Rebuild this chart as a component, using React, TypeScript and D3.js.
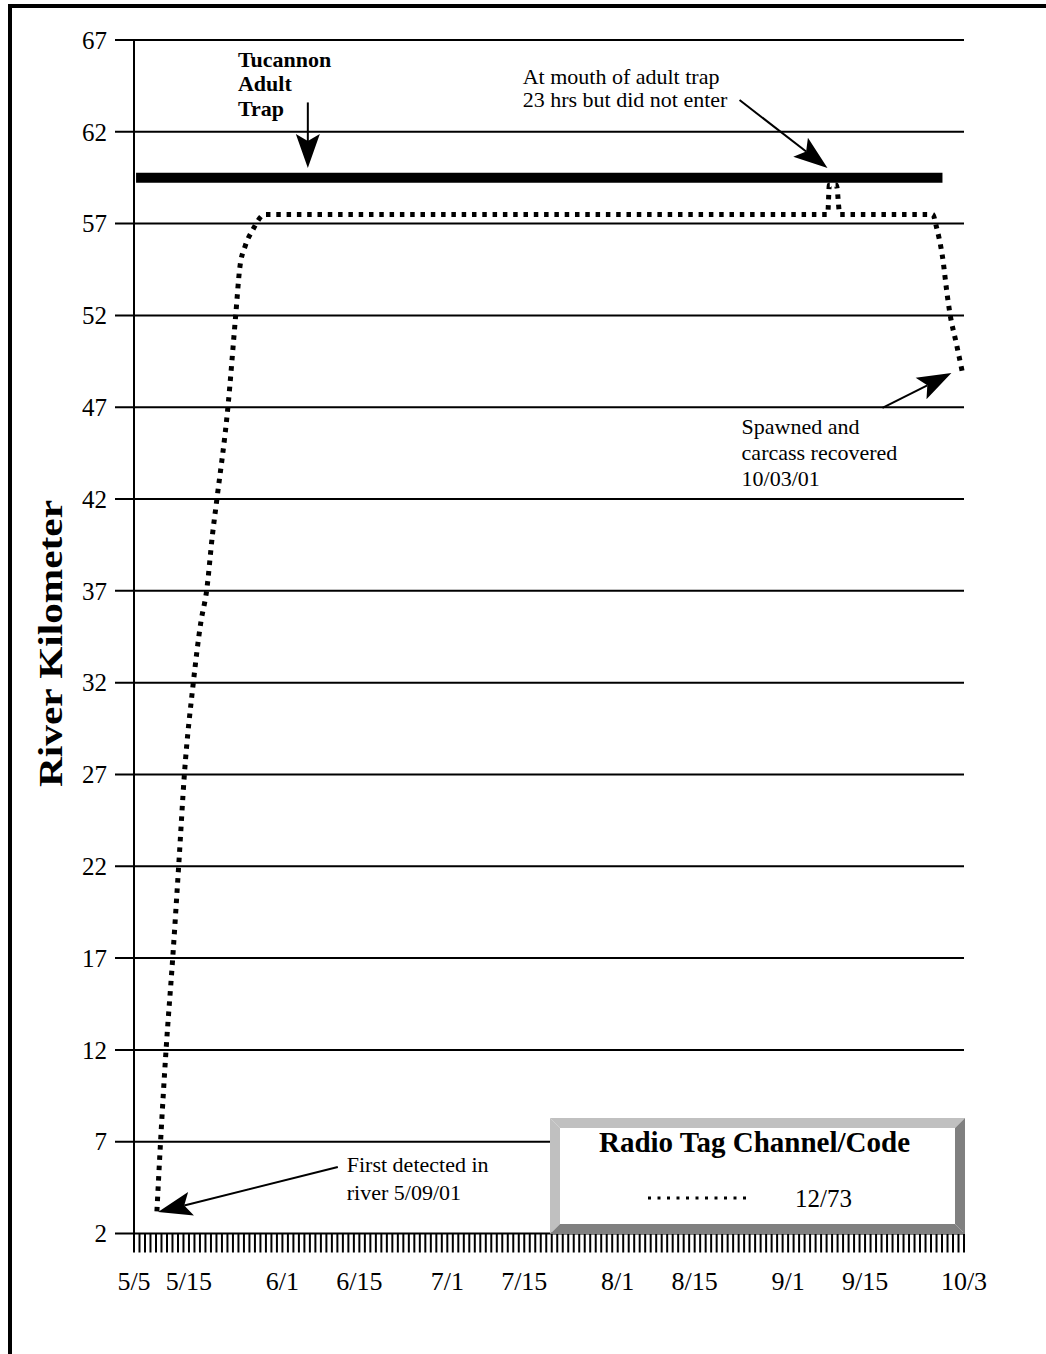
import React from "react";
import * as d3 from "d3";

// ---------- data ----------
const trackTimes = [
  "2001-05-09 04:00", "2001-05-09 20:00", "2001-05-10 20:00", "2001-05-12 01:00",
  "2001-05-13 03:00", "2001-05-14 04:00", "2001-05-15 19:00", "2001-05-17 04:00",
  "2001-05-18 05:00", "2001-05-19 07:00", "2001-05-20 02:00", "2001-05-22 02:00",
  "2001-05-23 12:00", "2001-05-24 06:00", "2001-05-25 06:00", "2001-05-26 12:00",
  "2001-05-28 19:00",
  "2001-09-08 05:00", "2001-09-08 12:00", "2001-09-09 19:00", "2001-09-10 10:00",
  "2001-09-27 07:00", "2001-09-28 00:00", "2001-09-29 02:00", "2001-09-30 00:00",
  "2001-09-30 12:00", "2001-10-01 14:00", "2001-10-02 17:00",
];
const trackKm = [
  3.2, 7, 12, 17,
  22, 27, 32, 35.3,
  37, 40.1, 42, 47,
  52, 54.6, 55.8, 56.6,
  57.5,
  57.5, 59.1, 59.1, 57.5,
  57.5, 56.8, 55.2, 53.0,
  52.0, 50.5, 48.9,
];

const trapKm = 59.5;
const trapSpan = ["2001-05-05 09:00", "2001-09-29 02:00"];

const yTicks = [2, 7, 12, 17, 22, 27, 32, 37, 42, 47, 52, 57, 62, 67];
const xTickDates = [
  "2001-05-05 00:00", "2001-05-15 00:00", "2001-06-01 00:00", "2001-06-15 00:00",
  "2001-07-01 00:00", "2001-07-15 00:00", "2001-08-01 00:00", "2001-08-15 00:00",
  "2001-09-01 00:00", "2001-09-15 00:00", "2001-10-03 00:00",
];
const xTickLabels = ["5/5", "5/15", "6/1", "6/15", "7/1", "7/15", "8/1", "8/15", "9/1", "9/15", "10/3"];
const domainDates = ["2001-05-05 00:00", "2001-10-03 00:00"];

const legendTitle = "Radio Tag Channel/Code";
const legendCode = "12/73";
const yTitle = "River Kilometer";

// annotations anchored in data space
const annotations = [
  { lines: ["Tucannon", "Adult", "Trap"], at: "2001-05-23 22:00", km: 65.53, bold: true, lh: 24.5, fs: 22 },
  { lines: ["At mouth of adult trap", "23 hrs but did not enter"], at: "2001-07-14 17:00", km: 64.62, bold: false, lh: 23.5, fs: 22 },
  { lines: ["Spawned and", "carcass recovered", "10/03/01"], at: "2001-08-23 13:00", km: 45.54, bold: false, lh: 26, fs: 22 },
  { lines: ["First detected in", "river 5/09/01"], at: "2001-06-12 17:00", km: 5.34, bold: false, lh: 28, fs: 22 },
];
const arrows = [
  { from: ["2001-06-05 15:00", 63.6], to: ["2001-06-05 15:00", 60.03] },
  { from: ["2001-08-23 04:00", 63.73], to: ["2001-09-08 04:00", 60.03] },
  { from: ["2001-09-18 04:00", 46.96], to: ["2001-09-30 17:00", 48.86] },
  { from: ["2001-06-11 02:00", 5.62], to: ["2001-05-09 09:00", 3.17] },
];

// ---------- layout ----------
const W = 1046;
const H = 1354;
const FONT = "'Liberation Serif', 'Times New Roman', serif";
const parse = d3.utcParse("%Y-%m-%d %H:%M");

const x = d3.scaleUtc().domain(domainDates.map((s) => parse(s)!)).range([134, 964]);
const y = d3.scaleLinear().domain([2, 67]).range([1233.5, 40]);

function arrowHead(x1: number, y1: number, x2: number, y2: number, len = 34, hw = 12, notch = 7) {
  const L = Math.hypot(x2 - x1, y2 - y1);
  const ux = (x2 - x1) / L, uy = (y2 - y1) / L;
  const nx = -uy, ny = ux;
  const bx = x2 - ux * len, by = y2 - uy * len;
  const mx = x2 - ux * (len - notch), my = y2 - uy * (len - notch);
  return {
    pts: [
      [x2, y2],
      [bx + nx * hw, by + ny * hw],
      [mx, my],
      [bx - nx * hw, by - ny * hw],
    ].map((p) => p.join(",")).join(" "),
    mx, my,
  };
}

export default function App() {
  const trackData = trackTimes.map((t, i) => ({ t: parse(t)!, v: trackKm[i] }));
  const line = d3
    .line<{ t: Date; v: number }>()
    .x((d) => x(d.t))
    .y((d) => y(d.v))
    .curve(d3.curveMonotoneX);

  const days = d3.utcDay.range(x.domain()[0], d3.utcDay.offset(x.domain()[1], 1));

  const [lx0, lx1, ly0, ly1] = [550, 965, 1118, 1234];
  const bev = 10;

  return (
    <svg
      width={W}
      height={H}
      style={{ position: "absolute", left: 0, top: 0, display: "block", background: "#fff" }}
      fontFamily={FONT}
    >
      <rect x={0} y={0} width={W} height={H} fill="#fff" />
      {/* page border */}
      <line x1={10} y1={4} x2={10} y2={H} stroke="#000" strokeWidth={4} />
      <line x1={8} y1={6} x2={W} y2={6} stroke="#000" strokeWidth={4} />

      {/* grid lines + y ticks */}
      {yTicks.map((v) => (
        <g key={v}>
          <line x1={115} x2={964} y1={y(v)} y2={y(v)} stroke="#000" strokeWidth={2} />
          <text x={107} y={y(v)} dy="0.35em" textAnchor="end" fontSize={25} fill="#000">
            {v}
          </text>
        </g>
      ))}

      {/* y axis */}
      <line x1={134} x2={134} y1={y(67)} y2={y(2)} stroke="#000" strokeWidth={2} />
      {/* x axis daily ticks */}
      {days.map((d, i) => (
        <line key={i} x1={x(d)} x2={x(d)} y1={y(2)} y2={y(2) + 19} stroke="#000" strokeWidth={2} />
      ))}
      {xTickDates.map((s, i) => (
        <text key={s} x={x(parse(s)!)} y={1290} textAnchor="middle" fontSize={26} fill="#000">
          {xTickLabels[i]}
        </text>
      ))}

      {/* y title */}
      <text
        transform={`translate(62, ${643.5}) rotate(-90)`}
        textAnchor="middle"
        fontSize={34}
        fontWeight="bold"
        textLength={287}
        lengthAdjust="spacingAndGlyphs"
        fill="#000"
      >
        {yTitle}
      </text>

      {/* trap bar */}
      <line
        x1={x(parse(trapSpan[0])!)}
        x2={x(parse(trapSpan[1])!)}
        y1={y(trapKm)}
        y2={y(trapKm)}
        stroke="#000"
        strokeWidth={10}
      />

      {/* fish track */}
      <path d={line(trackData) || ""} fill="none" stroke="#000" strokeWidth={5} strokeDasharray="4.5 5.8" />

      {/* annotations */}
      {annotations.map((a, i) => (
        <text key={i} x={x(parse(a.at)!)} y={y(a.km)} fontSize={a.fs} fontWeight={a.bold ? "bold" : "normal"} fill="#000">
          {a.lines.map((l, j) => (
            <tspan key={j} x={x(parse(a.at)!)} dy={j === 0 ? 0 : a.lh}>
              {l}
            </tspan>
          ))}
        </text>
      ))}
      {arrows.map((a, i) => {
        const x1 = x(parse(a.from[0] as string)!), y1 = y(a.from[1] as number);
        const x2 = x(parse(a.to[0] as string)!), y2 = y(a.to[1] as number);
        const h = arrowHead(x1, y1, x2, y2);
        return (
          <g key={i}>
            <line x1={x1} y1={y1} x2={h.mx} y2={h.my} stroke="#000" strokeWidth={2} />
            <polygon points={h.pts} fill="#000" />
          </g>
        );
      })}

      {/* legend */}
      <polygon points={`${lx0},${ly0} ${lx1},${ly0} ${lx1 - bev},${ly0 + bev} ${lx0 + bev},${ly0 + bev}`} fill="#c0c0c0" />
      <polygon points={`${lx0},${ly0} ${lx0 + bev},${ly0 + bev} ${lx0 + bev},${ly1 - bev} ${lx0},${ly1}`} fill="#c0c0c0" />
      <polygon points={`${lx1},${ly0} ${lx1},${ly1} ${lx1 - bev},${ly1 - bev} ${lx1 - bev},${ly0 + bev}`} fill="#808080" />
      <polygon points={`${lx0},${ly1} ${lx1},${ly1} ${lx1 - bev},${ly1 - bev} ${lx0 + bev},${ly1 - bev}`} fill="#808080" />
      <rect x={lx0 + bev} y={ly0 + bev} width={lx1 - lx0 - 2 * bev} height={ly1 - ly0 - 2 * bev} fill="#fff" />
      <text x={(lx0 + lx1) / 2 - 3} y={1152} textAnchor="middle" fontSize={29} fontWeight="bold" fill="#000">
        {legendTitle}
      </text>
      <line x1={648} x2={752} y1={1198} y2={1198} stroke="#000" strokeWidth={3} strokeDasharray="3 6.5" />
      <text x={795} y={1207} fontSize={25} fill="#000">
        {legendCode}
      </text>
    </svg>
  );
}
